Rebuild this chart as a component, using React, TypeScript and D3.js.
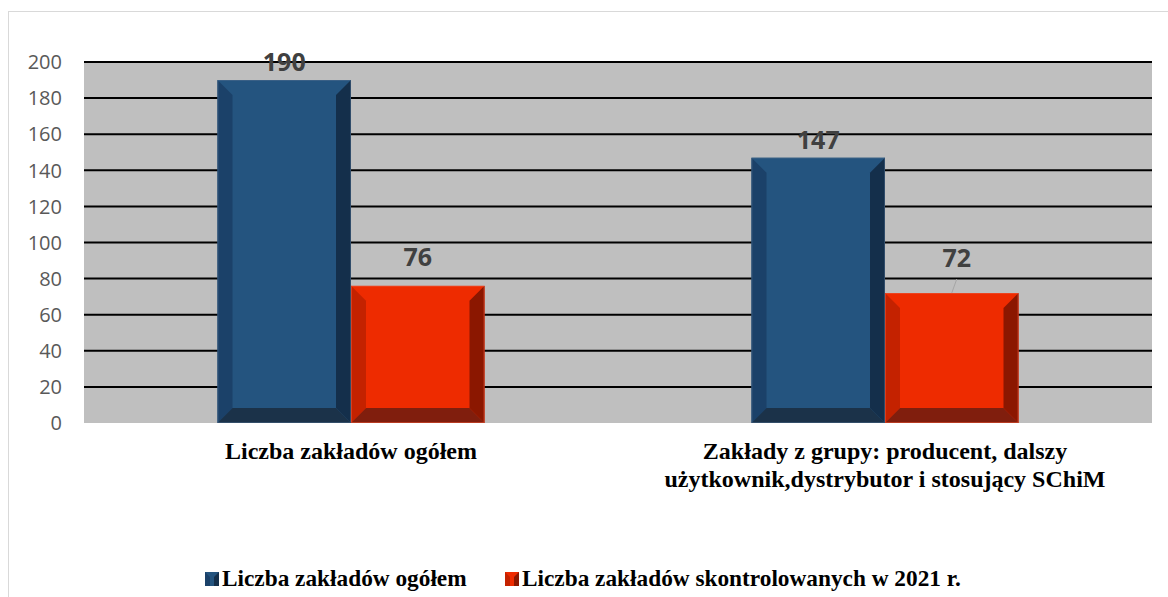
import { useRef, useEffect } from "react";
import * as d3 from "d3";

// ─── Data ─────────────────────────────────────────────────────────────────────

const categories = [
  ["Liczba zakładów ogółem"],
  ["Zakłady z grupy: producent, dalszy", "użytkownik,dystrybutor i stosujący SChiM"],
];
const seriesNames = ["Liczba zakładów ogółem", "Liczba zakładów skontrolowanych w 2021 r."];
const totalValues = [190, 147];
const controlledValues = [76, 72];
const yTicks = [0, 20, 40, 60, 80, 100, 120, 140, 160, 180, 200];

// ─── Layout / style ──────────────────────────────────────────────────────────

const W = 1168;
const H = 597;
const PLOT = { left: 84, right: 1152, top: 62, bottom: 423 };
const BEVEL = 15;
const SERIF = "'Liberation Serif', 'Times New Roman', serif";

const PALETTE = [
  { face: "#24547f", left: "#1b4169", right: "#142f4b", bottom: "#1b3249", edge: "#4b6a8a" },
  { face: "#ee2b00", left: "#c42200", right: "#8b1700", bottom: "#801e0d", edge: "#f05a3a" },
];
const LABEL_GAP = [9, 20];

export default function App() {
  const svgRef = useRef<SVGSVGElement>(null);

  useEffect(() => {
    if (!svgRef.current) return;
    const svg = d3.select(svgRef.current);
    svg.selectAll("*").remove();

    const series = [totalValues, controlledValues];

    const x0 = d3
      .scaleBand<number>()
      .domain(categories.map((_, i) => i))
      .range([PLOT.left, PLOT.right])
      .paddingInner(0.5)
      .paddingOuter(0.25);
    const x1 = d3
      .scaleBand<number>()
      .domain(series.map((_, i) => i))
      .range([0, x0.bandwidth()]);
    const y = d3.scaleLinear().domain([0, 200]).range([PLOT.bottom, PLOT.top]);

    // ── Chart frame ──────────────────────────────────────────────────────────
    svg.append("rect")
      .attr("x", 8.5).attr("y", 11.5)
      .attr("width", 1300).attr("height", 700)
      .attr("fill", "#fff").attr("stroke", "#d9d9d9");

    // ── Plot area + gridlines ───────────────────────────────────────────────
    svg.append("rect")
      .attr("x", PLOT.left).attr("y", PLOT.top)
      .attr("width", PLOT.right - PLOT.left).attr("height", PLOT.bottom - PLOT.top)
      .attr("fill", "#bfbfbf");

    svg.append("g")
      .selectAll("line")
      .data(yTicks.filter((t) => t > 0))
      .join("line")
      .attr("x1", PLOT.left).attr("x2", PLOT.right)
      .attr("y1", (d) => y(d)).attr("y2", (d) => y(d))
      .attr("stroke", "#000").attr("stroke-width", 2);

    svg.append("g")
      .selectAll("text")
      .data(yTicks)
      .join("text")
      .attr("x", 62)
      .attr("y", (d) => y(d))
      .attr("dy", "0.36em")
      .attr("text-anchor", "end")
      .attr("font-family", "'Open Sans', sans-serif")
      .attr("font-size", 20)
      .attr("fill", "#595959")
      .text((d) => d);

    // ── Bevelled bars ───────────────────────────────────────────────────────
    series.forEach((vals, s) => {
      const c = PALETTE[s];
      vals.forEach((v, i) => {
        const bx = (x0(i) ?? 0) + (x1(s) ?? 0);
        const bw = x1.bandwidth();
        const by = y(v);
        const bb = y(0);
        const g = svg.append("g");
        g.append("rect").attr("x", bx).attr("y", by).attr("width", bw).attr("height", bb - by).attr("fill", c.face);
        const poly = (pts: [number, number][], fill: string) =>
          g.append("polygon").attr("points", pts.map((p) => p.join(",")).join(" ")).attr("fill", fill);
        poly([[bx, by], [bx + BEVEL, by + BEVEL], [bx + BEVEL, bb - BEVEL], [bx, bb]], c.left);
        poly([[bx + bw, by], [bx + bw - BEVEL, by + BEVEL], [bx + bw - BEVEL, bb - BEVEL], [bx + bw, bb]], c.right);
        poly([[bx, bb], [bx + BEVEL, bb - BEVEL], [bx + bw - BEVEL, bb - BEVEL], [bx + bw, bb]], c.bottom);
        g.append("rect").attr("x", bx + 0.5).attr("y", by + 0.5).attr("width", bw - 1).attr("height", bb - by - 1)
          .attr("fill", "none").attr("stroke", c.edge).attr("stroke-opacity", 0.5);

        // value label (the last one is nudged off its bar, with a leader line)
        const moved = s === 1 && i === 1;
        const lx = bx + bw / 2 + (moved ? 5 : 0);
        const ly = by - LABEL_GAP[s] - (moved ? 6 : 0);
        if (moved) {
          svg.append("line")
            .attr("x1", lx).attr("y1", ly + 12)
            .attr("x2", bx + bw / 2).attr("y2", by)
            .attr("stroke", "#a6a6a6").attr("stroke-width", 1);
        }
        svg.append("text")
          .attr("x", lx).attr("y", ly)
          .attr("text-anchor", "middle")
          .attr("font-family", "'Open Sans', sans-serif")
          .attr("font-weight", 700)
          .attr("font-size", 25)
          .attr("fill", "#404040")
          .text(v);
      });
    });

    // ── Category labels ─────────────────────────────────────────────────────
    categories.forEach((lines, i) => {
      const cx = (x0(i) ?? 0) + x0.bandwidth() / 2;
      const t = svg.append("text")
        .attr("text-anchor", "middle")
        .attr("font-family", SERIF)
        .attr("font-weight", 700)
        .attr("font-size", 24)
        .attr("fill", "#000");
      lines.forEach((ln, k) => {
        t.append("tspan").attr("x", cx).attr("y", 459 + k * 28).text(ln);
      });
    });

    // ── Legend ──────────────────────────────────────────────────────────────
    const legendX = [205, 505];
    legendX.forEach((lx, s) => {
      const c = PALETTE[s];
      svg.append("rect").attr("x", lx).attr("y", 572).attr("width", 14).attr("height", 14).attr("fill", c.face);
      svg.append("polygon")
        .attr("points", `${lx},572 ${lx + 5},577 ${lx + 5},586 ${lx},586`)
        .attr("fill", c.left);
      svg.append("polygon")
        .attr("points", `${lx + 14},572 ${lx + 9},577 ${lx + 9},586 ${lx + 14},586`)
        .attr("fill", c.right);
      svg.append("text")
        .attr("x", lx + 17).attr("y", 586)
        .attr("font-family", SERIF)
        .attr("font-weight", 700)
        .attr("font-size", 23.3)
        .attr("fill", "#000")
        .text(seriesNames[s]);
    });
  }, []);

  return (
    <svg
      ref={svgRef}
      width={W}
      height={H}
      style={{ position: "absolute", left: 0, top: 0 }}
    />
  );
}
